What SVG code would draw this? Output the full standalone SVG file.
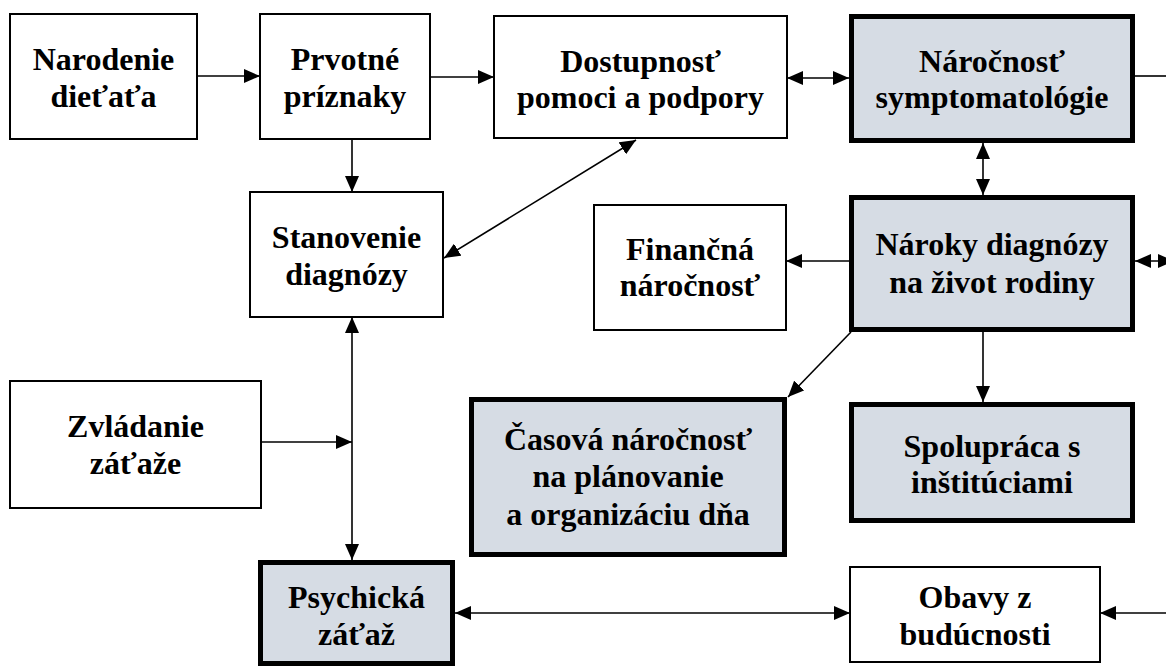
<svg xmlns="http://www.w3.org/2000/svg" width="1166" height="666" viewBox="0 0 1166 666">
<style>
  .box { fill: #ffffff; stroke: #000000; stroke-width: 2; }
  .key { fill: #d6dce4; stroke: #000000; stroke-width: 5; }
  .lbl { font-family: Liberation Serif, serif; font-weight: bold; font-size: 32px; text-anchor: middle; fill: #000000; }
  .con { fill: none; stroke: #000000; stroke-width: 1.6; }
</style>
<defs>
  <marker id="ah" markerUnits="userSpaceOnUse" markerWidth="16" markerHeight="14" refX="16" refY="7" orient="auto-start-reverse">
    <path d="M0,0 L16,7 L0,14 z" fill="#000000"/>
  </marker>
</defs>
<rect width="1166" height="666" fill="#ffffff"/>

<g id="connectors">
  <path class="con" d="M197,76 H260" marker-end="url(#ah)"/>
  <path class="con" d="M430,77 H494" marker-end="url(#ah)"/>
  <path class="con" d="M787,78 H849" marker-start="url(#ah)" marker-end="url(#ah)"/>
  <path class="con" d="M1135,76 H1166"/>
  <path class="con" d="M352,139 V192" marker-end="url(#ah)"/>
  <path class="con" d="M444,258 L636,140" marker-start="url(#ah)" marker-end="url(#ah)"/>
  <path class="con" d="M983,143 V195" marker-start="url(#ah)" marker-end="url(#ah)"/>
  <path class="con" d="M849,261 H786" marker-end="url(#ah)"/>
  <path class="con" d="M1135,261 H1174" marker-start="url(#ah)" marker-end="url(#ah)"/>
  <path class="con" d="M851,332 L788,397" marker-end="url(#ah)"/>
  <path class="con" d="M983,332 V402" marker-end="url(#ah)"/>
  <path class="con" d="M352,317 V560" marker-start="url(#ah)" marker-end="url(#ah)"/>
  <path class="con" d="M261,442 H352" marker-end="url(#ah)"/>
  <path class="con" d="M455,613 H850" marker-start="url(#ah)" marker-end="url(#ah)"/>
  <path class="con" d="M1166,613 H1100" marker-end="url(#ah)"/>
</g>

<g id="narodenie">
  <rect class="box" x="10" y="14" width="187" height="125"/>
  <text class="lbl" x="103.5" y="70">Narodenie</text>
  <text class="lbl" x="103.5" y="107">dieťaťa</text>
</g>
<g id="prvotne">
  <rect class="box" x="260" y="14" width="170" height="125"/>
  <text class="lbl" x="345" y="70">Prvotné</text>
  <text class="lbl" x="345" y="107">príznaky</text>
</g>
<g id="dostupnost">
  <rect class="box" x="494" y="16" width="293" height="122"/>
  <text class="lbl" x="640.5" y="72">Dostupnosť</text>
  <text class="lbl" x="640.5" y="108">pomoci a podpory</text>
</g>
<g id="narocnost">
  <rect class="key" x="851.5" y="16.5" width="281" height="124"/>
  <text class="lbl" x="992" y="72">Náročnosť</text>
  <text class="lbl" x="992" y="108">symptomatológie</text>
</g>
<g id="stanovenie">
  <rect class="box" x="250" y="192" width="193" height="125"/>
  <text class="lbl" x="346.5" y="248">Stanovenie</text>
  <text class="lbl" x="346.5" y="285">diagnózy</text>
</g>
<g id="financna">
  <rect class="box" x="594" y="205" width="192" height="125"/>
  <text class="lbl" x="690" y="260">Finančná</text>
  <text class="lbl" x="690" y="296">náročnosť</text>
</g>
<g id="naroky">
  <rect class="key" x="851.5" y="197.5" width="281" height="132"/>
  <text class="lbl" x="992" y="255">Nároky diagnózy</text>
  <text class="lbl" x="992" y="293">na život rodiny</text>
</g>
<g id="zvladanie">
  <rect class="box" x="10" y="381" width="251" height="127"/>
  <text class="lbl" x="135.5" y="437">Zvládanie</text>
  <text class="lbl" x="135.5" y="474">záťaže</text>
</g>
<g id="casova">
  <rect class="key" x="471.5" y="399.5" width="313" height="155"/>
  <text class="lbl" x="628" y="450">Časová náročnosť</text>
  <text class="lbl" x="628" y="487">na plánovanie</text>
  <text class="lbl" x="628" y="525">a organizáciu dňa</text>
</g>
<g id="spolupraca">
  <rect class="key" x="851.5" y="404.5" width="281" height="116"/>
  <text class="lbl" x="992" y="457">Spolupráca s</text>
  <text class="lbl" x="992" y="493">inštitúciami</text>
</g>
<g id="psychicka">
  <rect class="key" x="260.5" y="562.5" width="192" height="101"/>
  <text class="lbl" x="356.5" y="608">Psychická</text>
  <text class="lbl" x="356.5" y="645">záťaž</text>
</g>
<g id="obavy">
  <rect class="box" x="850" y="567" width="250" height="95"/>
  <text class="lbl" x="975" y="608">Obavy z</text>
  <text class="lbl" x="975" y="645">budúcnosti</text>
</g>
</svg>
